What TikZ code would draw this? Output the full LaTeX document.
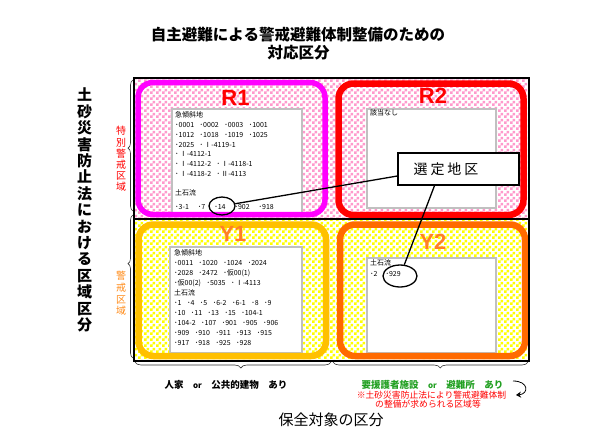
\documentclass[tikz,border=0pt]{standalone}
\usepackage{fontspec}
\setmainfont{Liberation Sans}
\newfontfamily\jp{Noto Sans CJK JP}
\usetikzlibrary{patterns,decorations.pathreplacing,arrows.meta,shapes.geometric}
\pgfdeclarepatternformonly{chkb}{\pgfpointorigin}{\pgfqpoint{6pt}{6pt}}{\pgfqpoint{6pt}{6pt}}{%
  \pgfpathrectangle{\pgfpointorigin}{\pgfqpoint{3pt}{3pt}}%
  \pgfpathrectangle{\pgfqpoint{3pt}{3pt}}{\pgfqpoint{3pt}{3pt}}%
  \pgfusepath{fill}}
\definecolor{pinkc}{HTML}{FF99CC}
\definecolor{yelc}{HTML}{FFFF00}
\definecolor{magc}{HTML}{FF00FF}
\definecolor{redc}{HTML}{FF0000}
\definecolor{amberc}{HTML}{FFC000}
\definecolor{orngc}{HTML}{FF6A00}
\definecolor{ylabc}{HTML}{FF7F27}
\definecolor{grayb}{HTML}{C0C0C0}
\definecolor{grnc}{HTML}{22A022}
\definecolor{orlab}{HTML}{FF8C1A}
\newcommand\sepd{\hspace{5.5pt}･}
\newcommand\sepw{\hspace{9pt}･}
\tikzset{
  pinkcell/.style={pattern=chkb, pattern color=pinkc},
  yelcell/.style={pattern=chkb, pattern color=yelc},
  rborder/.style={line width=5.5pt, rounded corners=15pt},
  wbox/.style={fill=white, draw=grayb, line width=1.8pt},
  biglab/.style={font=\fontsize{22}{22}\selectfont\bfseries},
  smalltxt/.style={font=\jp\fontsize{7}{9.8}\selectfont, align=left, anchor=north west, inner sep=0pt},
  brc/.style={decorate, draw=black!80, line width=0.6pt},
}
\begin{document}
\begin{tikzpicture}[x=1pt,y=-1pt]
\useasboundingbox (0,0) rectangle (610,442);
\fill[white] (0,0) rectangle (610,442);
% cells
\fill[white] (134,78) rectangle (529,361);
\fill[pinkcell] (134,78) rectangle (331,219);
\fill[pinkcell] (331,78) rectangle (529,219);
\fill[yelcell] (134,219) rectangle (331,361);
\fill[yelcell] (331,219) rectangle (529,361);
% white boxes
\draw[wbox] (172,109) rectangle (302,213);
\draw[wbox] (367,109) rectangle (496,208);
\draw[wbox] (170,247) rectangle (302,353);
\draw[wbox] (367,258) rectangle (496,353);
% rounded borders
\draw[rborder, draw=magc] (138,82.5) rectangle (325,214.5);
\draw[rborder, draw=redc, line width=6.5pt] (338.5,83.5) rectangle (523.5,215);
\draw[rborder, draw=amberc, line width=6.5pt] (138.5,224.5) rectangle (326,356);
\draw[rborder, draw=orngc, line width=6.5pt] (340,224.5) rectangle (525,356);
% frame
\draw[line width=1.5pt] (134,78) rectangle (529,361);
\draw[line width=2pt] (134,219) -- (529,219);
% labels
\node[biglab, text=redc] (r1) at (235.5,97.5) {R1};
\node[biglab, text=redc] (r2) at (433,96) {R2};
\node[biglab, text=ylabc] (y1) at (233,234) {Y1};
\node[biglab, text=ylabc] (y2) at (433,242) {Y2};
% box texts
\node[smalltxt] (r1txt) at (175,111.5) {急傾斜地\\
･0001\sepd 0002\sepd 0003\sepd 1001\\
･1012\sepd 1018\sepd 1019\sepd 1025\\
･2025\sepd\,Ⅰ-4119-1\\
･\,Ⅰ-4112-1\\
･\,Ⅰ-4112-2\sepd\,Ⅰ-4118-1\\
･\,Ⅰ-4118-2\sepd\,Ⅱ-4113\\[9.4pt]
土石流\\[4.2pt]
･3-1\sepw 7\sepw 14\sepw 902\sepw 918};
\node[smalltxt] (r2txt) at (370,109.5) {該当なし};
\node[smalltxt, font=\jp\fontsize{7}{10}\selectfont] (y1txt) at (174,249.5) {急傾斜地\\
･0011\sepd 1020\sepd 1024\sepd 2024\\
･2028\sepd 2472\sepd 仮00(1)\\
･仮00(2)\sepd 5035\sepd\,Ⅰ-4113\\
土石流\\
･1\sepd 4\sepd 5\sepd 6-2\sepd 6-1\sepd 8\sepd 9\\
･10\sepd 11\sepd 13\sepd 15\sepd 104-1\\
･104-2\sepd 107\sepd 901\sepd 905\sepd 906\\
･909\sepd 910\sepd 911\sepd 913\sepd 915\\
･917\sepd 918\sepd 925\sepd 928};
\node[smalltxt, font=\jp\fontsize{7}{11}\selectfont] (y2txt) at (370,259.5) {土石流\\
･2\hspace{8pt}･929};
% circles
\node[ellipse, draw, line width=1.3pt, minimum width=26pt, minimum height=18pt, inner sep=0pt] (c14) at (222,206) {};
\node[ellipse, draw, line width=1.3pt, minimum width=34pt, minimum height=22pt, inner sep=0pt] (c929) at (400,276) {};
% callout
\node[draw, fill=white, line width=1.3pt, minimum width=121pt, minimum height=32pt, inner sep=0pt] (sel) at (458.5,169) {};
\draw[line width=1.3pt] ([yshift=-7pt]sel.west) -- (c14);
\draw[line width=1.3pt] ([xshift=-24pt]sel.south) -- (c929);
\node[font=\jp\fontsize{14}{14}\selectfont] (seltxt) at (446,169.5) {選\hspace{3pt}定\hspace{3pt}地\hspace{3pt}区};
% titles
\node[font=\jp\bfseries\fontsize{15.5}{16}\selectfont] (title1) at (298,35) {自主避難による警戒避難体制整備のための};
\node[font=\jp\bfseries\fontsize{15.5}{16}\selectfont] (title2) at (298.5,53) {対応区分};
\node[font=\jp\bfseries\fontsize{15}{16.4}\selectfont, align=center] (ltitle) at (84.5,210) {土\\砂\\災\\害\\防\\止\\法\\に\\お\\け\\る\\区\\域\\区\\分};
\node[font=\jp\fontsize{10}{11.2}\selectfont, align=center, text=redc] (tok) at (121,159) {特\\別\\警\\戒\\区\\域};
\node[font=\jp\fontsize{10}{11.75}\selectfont, align=center, text=orlab] (kei) at (121,293.5) {警\\戒\\区\\域};
% braces
\draw[brc, decoration={brace, amplitude=5pt, aspect=0.48}] (133,211) -- (133,80);
\draw[brc, decoration={brace, amplitude=5pt, aspect=0.66}] (133,358) -- (133,215);
\draw[brc, decoration={brace, amplitude=6pt, aspect=0.46}] (331,362) -- (135,362);
\draw[brc, decoration={brace, amplitude=6pt, aspect=0.45}] (528,362) -- (333,362);
% bottom texts
\node[font=\jp\bfseries\fontsize{9.5}{10}\selectfont] (hk) at (226,385) {人家　{\fontsize{8}{8}\selectfont or}　公共的建物　あり};
\node[font=\jp\bfseries\fontsize{9.5}{10}\selectfont, text=grnc] (yo) at (432.5,385) {要援護者施設　{\fontsize{8}{8}\selectfont or}　避難所　あり};
\node[font=\jp\fontsize{8.8}{10}\selectfont, text=redc] (n1) at (431.5,395) {※土砂災害防止法により警戒避難体制};
\node[font=\jp\fontsize{8.8}{10}\selectfont, text=redc] (n2) at (428,404.5) {の整備が求められる区域等};
\coordinate (ca) at (513,381);
\coordinate (cb) at (516,395);
\draw[line width=0.8pt, -{Stealth[open, length=5pt, width=6pt]}] (ca) .. controls (529,381) and (529,394) .. (cb);
\node[font=\jp\fontsize{15}{16}\selectfont] (hz) at (331,420) {保全対象の区分};
\end{tikzpicture}
\end{document}
